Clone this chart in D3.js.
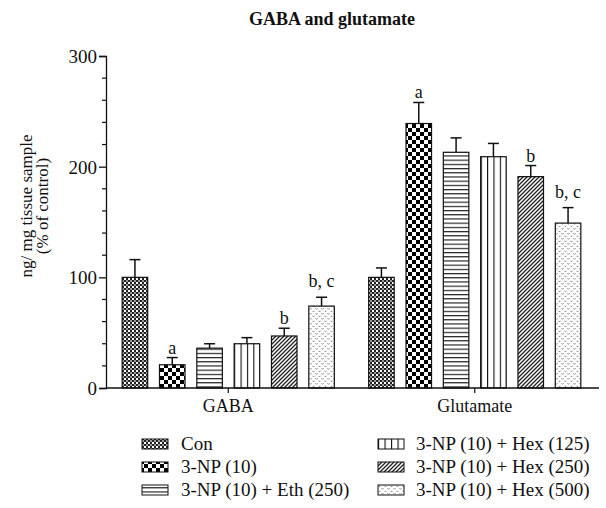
<!DOCTYPE html>
<html>
<head>
<meta charset="utf-8">
<script src="https://cdn.jsdelivr.net/npm/d3@7"></script>
<style>
  body { margin: 0; background: #fff; }
  svg { display: block; }
  text { font-family: "Liberation Serif", "Times New Roman", serif; fill: #111; }
</style>
</head>
<body>
<svg id="chart" width="606" height="508"></svg>
<script>
// ---- data ----
const groups = ["GABA", "Glutamate"];
const series = ["Con", "3-NP (10)", "3-NP (10) + Eth (250)", "3-NP (10) + Hex (125)", "3-NP (10) + Hex (250)", "3-NP (10) + Hex (500)"];
const gabaMean = [100, 21, 36, 40, 47, 74];
const gabaErr  = [16, 6.5, 4, 5.5, 7, 8];
const gluMean  = [100, 239, 213, 209, 191, 149];
const gluErr   = [8.5, 19, 13, 12, 10, 14];
const gabaSig  = ["", "a", "", "", "b", "b, c"];
const gluSig   = ["", "a", "", "", "b", "b, c"];
const yTicks = [0, 100, 200, 300];
const title = "GABA and glutamate";
const yLabel = ["ng/ mg tissue sample", "(% of control)"];

const data = [];
groups.forEach((g, gi) => {
  series.forEach((s, si) => {
    data.push({
      group: g, series: s, si,
      mean: gi === 0 ? gabaMean[si] : gluMean[si],
      err: gi === 0 ? gabaErr[si] : gluErr[si],
      sig: gi === 0 ? gabaSig[si] : gluSig[si]
    });
  });
});

const svg = d3.select("#chart");

// ---- patterns ----
const defs = svg.append("defs");
// 0: fine checker
let p = defs.append("pattern").attr("id", "pat0").attr("patternUnits", "userSpaceOnUse").attr("width", 4).attr("height", 4);
p.append("rect").attr("width", 4).attr("height", 4).attr("fill", "#fff");
p.append("rect").attr("width", 2).attr("height", 2).attr("fill", "#222");
p.append("rect").attr("x", 2).attr("y", 2).attr("width", 2).attr("height", 2).attr("fill", "#222");
p.append("rect").attr("x", 2).attr("y", 0).attr("width", 2).attr("height", 2).attr("fill", "#999");
// 1: big checker
p = defs.append("pattern").attr("id", "pat1").attr("patternUnits", "userSpaceOnUse").attr("width", 8).attr("height", 8);
p.append("rect").attr("width", 8).attr("height", 8).attr("fill", "#fff");
p.append("rect").attr("width", 4).attr("height", 4).attr("fill", "#000");
p.append("rect").attr("x", 4).attr("y", 4).attr("width", 4).attr("height", 4).attr("fill", "#000");
// 2: horizontal lines
p = defs.append("pattern").attr("id", "pat2").attr("patternUnits", "userSpaceOnUse").attr("width", 8).attr("height", 4.2);
p.append("rect").attr("width", 8).attr("height", 4.2).attr("fill", "#fff");
p.append("line").attr("x1", 0).attr("x2", 8).attr("y1", 0.6).attr("y2", 0.6).attr("stroke", "#111").attr("stroke-width", 1.1);
// 3: vertical lines (4 cells per bar)
p = defs.append("pattern").attr("id", "pat3").attr("patternUnits", "objectBoundingBox").attr("width", 0.25).attr("height", 1);
p.append("rect").attr("width", 40).attr("height", 1000).attr("fill", "#fff");
p.append("line").attr("x1", 0).attr("x2", 0).attr("y1", 0).attr("y2", 1000).attr("stroke", "#111").attr("stroke-width", 2.2);
// 4: diagonal hatch
p = defs.append("pattern").attr("id", "pat4").attr("patternUnits", "userSpaceOnUse").attr("width", 4).attr("height", 4);
p.append("rect").attr("width", 4).attr("height", 4).attr("fill", "#fff");
p.append("path").attr("d", "M-1,1 l2,-2 M0,4 l4,-4 M3,5 l2,-2").attr("stroke", "#222").attr("stroke-width", 1.3);
// 5: light dotted
p = defs.append("pattern").attr("id", "pat5").attr("patternUnits", "userSpaceOnUse").attr("width", 6).attr("height", 5);
p.append("rect").attr("width", 6).attr("height", 5).attr("fill", "#fff");
p.append("path").attr("d", "M0.5,0.8 l1,1 l1,-1 M3.5,3.3 l1,1 l1,-1").attr("stroke", "#777").attr("stroke-width", 1).attr("fill", "none");

// ---- scales ----
const x0 = d3.scaleBand().domain(groups).range([105, 598]).paddingInner(0).paddingOuter(0);
const x1 = d3.scaleBand().domain(series).range([0, x0.bandwidth()]).paddingInner(0.316).paddingOuter(0.46);
const y = d3.scaleLinear().domain([0, 300]).range([388, 56]);

// ---- title ----
svg.append("text").attr("x", 332).attr("y", 25).attr("text-anchor", "middle")
  .attr("font-size", 18).attr("font-weight", "bold").text(title);

// ---- y axis ----
const yAxis = d3.axisLeft(y).tickValues(yTicks).tickSize(7).tickPadding(2).tickFormat(d3.format("d"));
const gy = svg.append("g").attr("transform", "translate(106,0)").call(yAxis);
gy.select(".domain").attr("stroke", "#111").attr("stroke-width", 1.3);
gy.selectAll(".tick line").attr("stroke", "#111").attr("stroke-width", 1.3);
gy.selectAll(".tick text").attr("font-size", 19).attr("font-family", "Liberation Serif, serif").attr("fill", "#111").attr("dy", "0.34em");
const minor = d3.range(0, 301, 20).filter(v => v % 100 !== 0);
gy.selectAll(".minor").data(minor).enter().append("line").attr("class", "minor")
  .attr("x1", -4).attr("x2", 0).attr("y1", d => y(d)).attr("y2", d => y(d))
  .attr("stroke", "#111").attr("stroke-width", 1.2);

// y label
const yl = svg.append("g").attr("transform", "translate(32,206) rotate(-90)");
yl.append("text").attr("text-anchor", "middle").attr("font-size", 17).attr("y", 0).text(yLabel[0]);
yl.append("text").attr("text-anchor", "middle").attr("font-size", 17).attr("y", 16).text(yLabel[1]);

// ---- bars ----
const gBars = svg.append("g");
gBars.selectAll("rect.bar").data(data).enter().append("rect").attr("class", "bar")
  .attr("x", d => x0(d.group) + x1(d.series))
  .attr("width", x1.bandwidth())
  .attr("y", d => y(d.mean))
  .attr("height", d => y(0) - y(d.mean))
  .attr("fill", d => `url(#pat${d.si})`)
  .attr("stroke", "#111").attr("stroke-width", 1.2);

// error bars
const cx = d => x0(d.group) + x1(d.series) + x1.bandwidth() / 2;
gBars.selectAll("line.err").data(data).enter().append("line").attr("class", "err")
  .attr("x1", cx).attr("x2", cx)
  .attr("y1", d => y(d.mean)).attr("y2", d => y(d.mean + d.err))
  .attr("stroke", "#111").attr("stroke-width", 1.5);
gBars.selectAll("line.cap").data(data).enter().append("line").attr("class", "cap")
  .attr("x1", d => cx(d) - 5.5).attr("x2", d => cx(d) + 5.5)
  .attr("y1", d => y(d.mean + d.err)).attr("y2", d => y(d.mean + d.err))
  .attr("stroke", "#111").attr("stroke-width", 1.5);

// significance letters
gBars.selectAll("text.sig").data(data.filter(d => d.sig)).enter().append("text").attr("class", "sig")
  .attr("x", cx)
  .attr("y", d => y(d.mean + d.err) - (d.sig.includes(",") ? 10 : 4))
  .attr("text-anchor", "middle").attr("font-size", 18).text(d => d.sig);

// ---- x axis ----
const xAxis = d3.axisBottom(x0).tickSize(5).tickPadding(3);
const gx = svg.append("g").attr("transform", "translate(0,388)").call(xAxis);
gx.select(".domain").attr("d", "M106,0H599").attr("stroke", "#111").attr("stroke-width", 1.3);
gx.selectAll(".tick line").attr("stroke", "#111").attr("stroke-width", 1.2);
gx.selectAll(".tick text").attr("font-size", 18).attr("font-family", "Liberation Serif, serif").attr("fill", "#111").attr("dy", "0.9em");

// ---- legend ----
const leg = svg.append("g");
const legPos = series.map((s, i) => ({
  s, i,
  sx: i < 3 ? 142 : 378,
  tx: i < 3 ? 181 : 416,
  by: 450 + (i % 3) * 23
}));
leg.selectAll("rect").data(legPos).enter().append("rect")
  .attr("x", d => d.sx).attr("y", d => d.by - 11).attr("width", 26).attr("height", 10)
  .attr("fill", d => `url(#pat${d.i})`).attr("stroke", "#111").attr("stroke-width", 1);
leg.selectAll("text").data(legPos).enter().append("text")
  .attr("x", d => d.tx).attr("y", d => d.by).attr("font-size", 19).text(d => d.s);
</script>
</body>
</html>
